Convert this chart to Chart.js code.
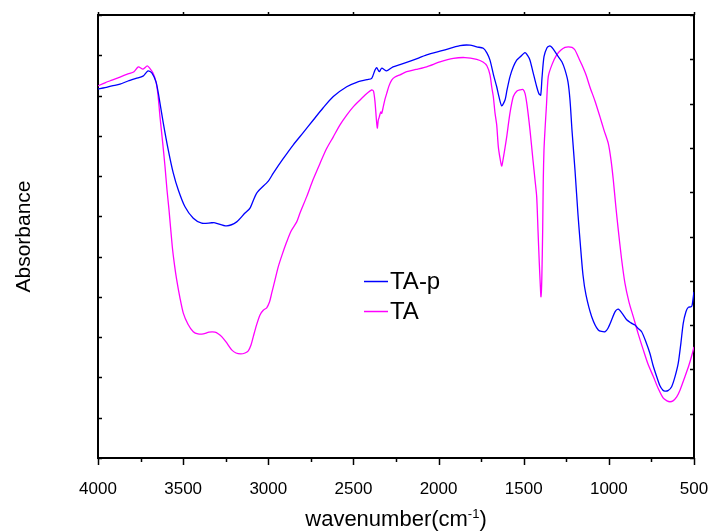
<!DOCTYPE html>
<html>
<head>
<meta charset="utf-8">
<script src="https://cdn.jsdelivr.net/npm/chart.js@4/dist/chart.umd.min.js"></script>
<style>
html,body{margin:0;padding:0;background:#fff;}
canvas{display:block;}
</style>
</head>
<body>
<canvas id="c" width="711" height="531"></canvas>
<script>
// ---- data ----
const seriesNames = ["TA-p", "TA"];
const seriesColors = ["#0000FF", "#FF00FF"];
const xTickLabels = [4000, 3500, 3000, 2500, 2000, 1500, 1000, 500];

const wnTAp = [4000,3958.9,3917.8,3870.8,3823.8,3776.8,3735.7,3706.4,3682.9,3659.4,3645.9,3616.5,3587.2,3557.8,3528.4,3489.1,3440.4,3391.0,3332.3,3312.9,3244.2,3185.5,3136.7,3107.4,3068.0,2999.9,2970.5,2913.6,2853.1,2796.1,2735.6,2678.7,2618.2,2539.5,2480.8,2420.3,2392.7,2373.3,2363.3,2348.1,2334.0,2304.6,2267.6,2226.5,2150.2,2069.7,1974.0,1874.2,1815.5,1776.1,1737.3,1715.6,1698.0,1677.5,1658.6,1645.1,1629.3,1609.9,1598.1,1580.5,1561.1,1541.2,1521.8,1492.4,1474.8,1463.1,1445.5,1423.8,1410.3,1400.3,1392.6,1380.9,1363.3,1349.8,1339.8,1326.3,1296.9,1275.2,1257.6,1240.0,1228.2,1216.5,1198.9,1181.2,1169.5,1151.9,1134.3,1100.8,1062.1,1022.7,1005.1,983.4,964.0,944.7,923.0,895.4,870.2,846.7,829.1,807.4,782.2,758.7,741.1,719.4,700.0,682.4,670.6,653.0,631.3,611.9,592.5,576.7,563.2,547.3,533.8,513.8,506.2,500.4];
const absTAp = [0.833,0.836,0.840,0.844,0.851,0.857,0.862,0.874,0.869,0.849,0.824,0.756,0.695,0.643,0.605,0.567,0.541,0.530,0.531,0.531,0.524,0.533,0.553,0.564,0.598,0.625,0.643,0.675,0.707,0.734,0.763,0.790,0.816,0.838,0.848,0.854,0.857,0.876,0.881,0.872,0.880,0.874,0.883,0.888,0.898,0.910,0.920,0.931,0.932,0.928,0.925,0.914,0.898,0.865,0.838,0.815,0.795,0.808,0.831,0.861,0.883,0.898,0.905,0.915,0.907,0.898,0.871,0.838,0.822,0.819,0.858,0.906,0.926,0.930,0.929,0.923,0.906,0.894,0.876,0.849,0.808,0.740,0.650,0.549,0.492,0.413,0.368,0.319,0.289,0.285,0.293,0.312,0.330,0.336,0.327,0.312,0.305,0.300,0.293,0.285,0.262,0.236,0.210,0.184,0.163,0.153,0.151,0.152,0.161,0.183,0.214,0.260,0.304,0.330,0.340,0.342,0.357,0.375];

const wnTA = [4000,3958.9,3917.8,3870.8,3823.8,3788.6,3763.3,3735.7,3710.5,3694.6,3677.0,3659.4,3647.6,3635.9,3621.2,3606.5,3594.8,3583.0,3563.7,3550.8,3537.8,3518.5,3499.1,3471.5,3440.4,3412.8,3381.6,3348.2,3312.9,3292.4,3273.6,3248.3,3214.9,3189.6,3162.0,3136.7,3117.4,3101.5,3088.0,3069.2,3048.7,3028.1,3009.3,2992.9,2980.0,2960.6,2941.2,2919.5,2891.8,2866.6,2833.1,2813.8,2774.4,2737.4,2696.3,2658.1,2618.2,2578.9,2539.5,2502.5,2461.4,2426.2,2392.7,2382.1,2373.3,2365.7,2359.8,2353.9,2348.1,2339.9,2334.0,2324.6,2314.6,2304.6,2291.1,2275.3,2255.9,2226.5,2187.2,2132.6,2069.7,1991.6,1913.5,1844.8,1776.1,1739.1,1715.6,1698.0,1688.0,1678.6,1668.6,1658.6,1649.2,1639.2,1629.3,1621.6,1609.9,1599.9,1580.5,1561.1,1541.2,1521.8,1504.2,1492.4,1480.7,1463.1,1445.5,1433.7,1423.8,1416.2,1408.5,1402.7,1398.6,1393.9,1388.6,1385.1,1381.0,1375.1,1366.3,1355.8,1334.0,1306.5,1281.2,1257.6,1238.3,1216.5,1198.9,1179.5,1157.8,1134.3,1110.8,1081.5,1052.1,1028.6,1003.4,987.5,974.0,959.9,944.7,925.9,905.3,881.8,856.6,828.9,797.8,770.2,739.0,711.4,680.3,658.6,641.0,623.4,601.6,582.3,552.9,529.4,511.8,500.1];
const absTA = [0.840,0.847,0.853,0.860,0.867,0.872,0.883,0.878,0.885,0.879,0.869,0.849,0.819,0.770,0.716,0.658,0.605,0.560,0.477,0.436,0.402,0.361,0.327,0.302,0.285,0.280,0.280,0.284,0.284,0.280,0.274,0.262,0.244,0.237,0.235,0.237,0.242,0.255,0.274,0.300,0.323,0.334,0.339,0.352,0.372,0.402,0.432,0.458,0.488,0.512,0.533,0.553,0.590,0.628,0.665,0.698,0.725,0.752,0.774,0.792,0.808,0.821,0.831,0.828,0.804,0.767,0.745,0.763,0.770,0.781,0.778,0.793,0.810,0.823,0.840,0.853,0.860,0.865,0.872,0.877,0.883,0.894,0.902,0.904,0.900,0.894,0.885,0.865,0.838,0.816,0.779,0.752,0.703,0.677,0.659,0.673,0.700,0.725,0.779,0.816,0.828,0.831,0.832,0.823,0.797,0.740,0.672,0.628,0.590,0.515,0.440,0.391,0.364,0.402,0.515,0.628,0.695,0.740,0.797,0.861,0.888,0.910,0.921,0.927,0.928,0.927,0.921,0.905,0.887,0.865,0.837,0.806,0.770,0.740,0.710,0.673,0.628,0.571,0.515,0.451,0.394,0.352,0.319,0.282,0.244,0.212,0.184,0.158,0.135,0.129,0.127,0.129,0.138,0.153,0.184,0.210,0.233,0.251];

const toPts = (xs, ys) => xs.map((x, i) => ({x: x, y: ys[i]}));

const FONT = "'Liberation Sans', Arial, Helvetica, sans-serif";

// custom drawing: ticks, titles, legend
const decorPlugin = {
  id: 'decor',
  afterDraw(chart) {
    const ctx = chart.ctx;
    const xs = chart.scales.x, ys = chart.scales.y;
    const a = chart.chartArea;
    ctx.save();
    ctx.strokeStyle = '#000';
    ctx.lineWidth = 1.5;
    // bottom ticks: major every 500, minor every 250
    for (let v = 500; v <= 4000; v += 250) {
      const px = Math.round(xs.getPixelForValue(v)) + 0.5;
      const major = v % 500 === 0;
      ctx.beginPath();
      ctx.moveTo(px, a.bottom);
      ctx.lineTo(px, a.bottom + (major ? 7 : 4));
      ctx.stroke();
      if (major) {
        ctx.beginPath();
        ctx.moveTo(px, a.top);
        ctx.lineTo(px, a.top - 3);
        ctx.stroke();
      }
    }
    // left ticks (11 intervals), right ticks (10 intervals), inward
    for (let k = 0; k <= 11; k++) {
      const py = Math.round(ys.getPixelForValue(k / 11)) + 0.5;
      ctx.beginPath();
      ctx.moveTo(a.left, py);
      ctx.lineTo(a.left + 4, py);
      ctx.stroke();
    }
    for (let k = 0; k <= 10; k++) {
      const py = Math.round(ys.getPixelForValue(k / 10)) + 0.5;
      ctx.beginPath();
      ctx.moveTo(a.right, py);
      ctx.lineTo(a.right - 4, py);
      ctx.stroke();
    }
    // x title with superscript
    ctx.fillStyle = '#000';
    ctx.textBaseline = 'alphabetic';
    ctx.textAlign = 'left';
    const big = '22px ' + FONT, small = '13px ' + FONT;
    const t1 = 'wavenumber(cm', t2 = '-1', t3 = ')';
    ctx.font = big; const w1 = ctx.measureText(t1).width, w3 = ctx.measureText(t3).width;
    ctx.font = small; const w2 = ctx.measureText(t2).width;
    const total = w1 + w2 + w3;
    let x0 = (a.left + a.right) / 2 - total / 2;
    const base = 525.5;
    ctx.font = big; ctx.fillText(t1, x0, base);
    ctx.font = small; ctx.fillText(t2, x0 + w1, base - 8);
    ctx.font = big; ctx.fillText(t3, x0 + w1 + w2, base);
    // y title
    ctx.save();
    ctx.translate(30, (a.top + a.bottom) / 2);
    ctx.rotate(-Math.PI / 2);
    ctx.textAlign = 'center';
    ctx.font = '21px ' + FONT;
    ctx.fillText('Absorbance', 0, 0);
    ctx.restore();
    // legend
    const lx = a.left + (a.right - a.left) * 0.4463;
    const ly0 = a.top + (a.bottom - a.top) * 0.6174;
    ctx.font = '24px ' + FONT;
    ctx.lineWidth = 1.5;
    chart.data.datasets.forEach((ds, i) => {
      const yb = ly0 + i * 30;
      ctx.strokeStyle = ds.borderColor;
      ctx.beginPath();
      ctx.moveTo(lx, yb - 7);
      ctx.lineTo(lx + 24, yb - 7);
      ctx.stroke();
      ctx.fillStyle = '#000';
      ctx.fillText(ds.label, lx + 26, yb);
    });
    ctx.restore();
  }
};

const noPad = (s) => { s.paddingLeft = 0; s.paddingRight = 0; s.paddingTop = 0; s.paddingBottom = 0; };

new Chart(document.getElementById('c'), {
  type: 'line',
  data: {
    datasets: [
      {label: seriesNames[0], data: toPts(wnTAp, absTAp), borderColor: seriesColors[0], borderWidth: 1.3, pointRadius: 0, tension: 0.25, fill: false},
      {label: seriesNames[1], data: toPts(wnTA, absTA), borderColor: seriesColors[1], borderWidth: 1.3, pointRadius: 0, tension: 0.25, fill: false}
    ]
  },
  options: {
    responsive: false,
    animation: false,
    devicePixelRatio: 1,
    layout: {padding: 0},
    plugins: {legend: {display: false}, tooltip: {enabled: false}},
    scales: {
      x: {
        type: 'linear', position: 'bottom', reverse: true, min: 500, max: 4000,
        afterBuildTicks: (s) => { s.ticks = xTickLabels.map(v => ({value: v})); },
        ticks: {color: '#000', font: {size: 17, family: FONT}, padding: 13, maxRotation: 0, autoSkip: false,
                callback: (v) => String(v)},
        grid: {display: false},
        border: {display: true, color: '#000', width: 2},
        afterFit: (s) => { s.height = 73; noPad(s); }
      },
      x2: {
        type: 'linear', position: 'top', reverse: true, min: 500, max: 4000,
        ticks: {display: false}, grid: {display: false},
        border: {display: true, color: '#000', width: 2},
        afterFit: (s) => { s.height = 15; noPad(s); }
      },
      y: {
        type: 'linear', position: 'left', min: 0, max: 1,
        ticks: {display: false}, grid: {display: false},
        border: {display: true, color: '#000', width: 2},
        afterFit: (s) => { s.width = 98; noPad(s); }
      },
      y2: {
        type: 'linear', position: 'right', min: 0, max: 1,
        ticks: {display: false}, grid: {display: false},
        border: {display: true, color: '#000', width: 2},
        afterFit: (s) => { s.width = 17; noPad(s); }
      }
    }
  },
  plugins: [decorPlugin]
});
</script>
</body>
</html>
